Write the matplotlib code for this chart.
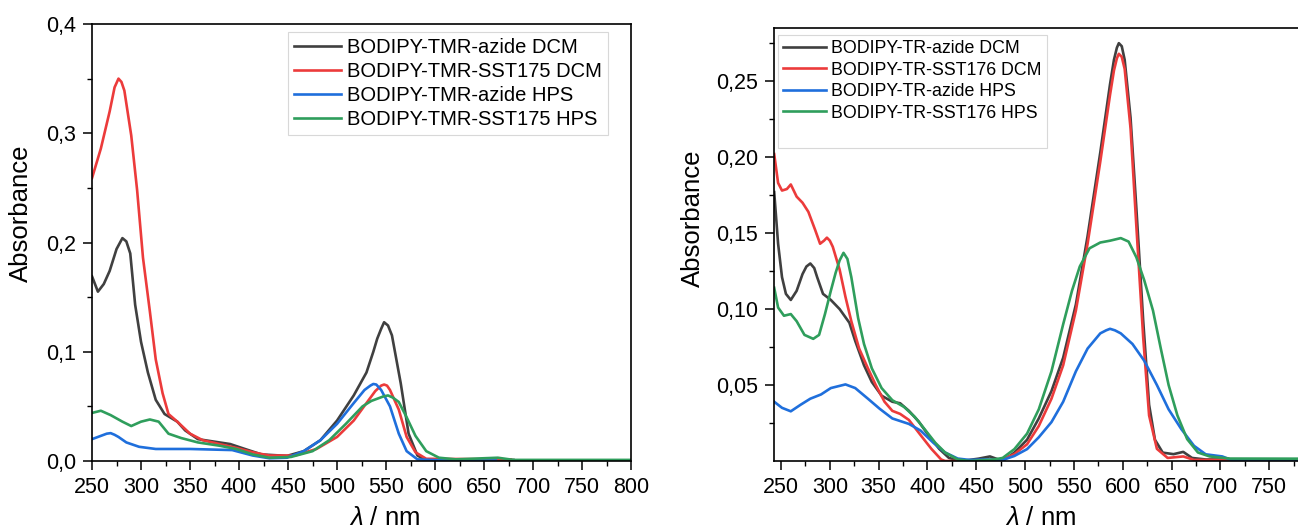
import matplotlib
matplotlib.use("Agg")
import matplotlib.pyplot as plt
from matplotlib.lines import Line2D
from matplotlib.ticker import MultipleLocator, FuncFormatter

plt.rcParams["font.family"] = ["Liberation Sans", "DejaVu Sans"]
plt.rcParams["mathtext.fontset"] = "custom"
plt.rcParams["mathtext.it"] = "Liberation Sans:italic"
plt.rcParams["mathtext.rm"] = "Liberation Sans"

# ---- left panel: BODIPY-TMR ----
tmr_azide_dcm_x = [250, 256, 262, 268, 275, 281, 285, 289, 294, 300, 307, 315, 324, 337, 345, 358, 380,
                   391, 406, 423, 449, 466, 483, 500, 517, 530, 537, 541, 545, 548, 552, 556, 565,
                   573, 582, 590, 600, 680]
tmr_azide_dcm_y = [0.169, 0.155, 0.162, 0.174, 0.194, 0.204, 0.201, 0.190, 0.143, 0.109, 0.081, 0.056,
                   0.043, 0.036, 0.028, 0.020, 0.017, 0.0155, 0.011, 0.006, 0.0047, 0.009, 0.019,
                   0.037, 0.060, 0.081, 0.100, 0.112, 0.121, 0.127, 0.124, 0.115, 0.071, 0.025,
                   0.005, 0.001, 0.001, 0.001]

tmr_sst_dcm_x = [250, 259, 268, 273, 277, 280, 283, 290, 296, 302, 309, 315, 322, 328, 337, 350, 363,
                 380, 397, 414, 431, 457, 479, 500, 517, 530, 539, 545, 548, 551, 554, 563, 571, 580,
                 591, 677]
tmr_sst_dcm_y = [0.259, 0.286, 0.320, 0.342, 0.350, 0.347, 0.339, 0.298, 0.248, 0.186, 0.137, 0.093,
                 0.062, 0.043, 0.036, 0.025, 0.019, 0.0155, 0.012, 0.008, 0.005, 0.005, 0.011, 0.022,
                 0.037, 0.053, 0.064, 0.069, 0.070, 0.069, 0.065, 0.047, 0.022, 0.008, 0.002, 0.0015]

tmr_azide_hps_x = [250, 259, 265, 269, 273, 277, 285, 298, 315, 350, 393, 414, 431, 449, 466, 483,
                   500, 517, 528, 534, 537, 540, 545, 554, 563, 571, 582, 608, 662]
tmr_azide_hps_y = [0.020, 0.023, 0.025, 0.0255, 0.024, 0.022, 0.017, 0.013, 0.011, 0.011, 0.010,
                   0.005, 0.0025, 0.003, 0.009, 0.019, 0.034, 0.053, 0.065, 0.069, 0.0705, 0.070,
                   0.065, 0.050, 0.025, 0.009, 0.0015, 0.0005, 0.0005]

tmr_sst_hps_x = [250, 259, 269, 281, 290, 300, 309, 318, 328, 341, 358, 380, 397, 414, 431, 453, 475,
                 492, 509, 526, 535, 541, 547, 552, 557, 563, 571, 580, 591, 604, 621, 664, 680, 800]
tmr_sst_hps_y = [0.044, 0.046, 0.042, 0.036, 0.032, 0.036, 0.038, 0.036, 0.025, 0.021, 0.017, 0.014,
                 0.011, 0.006, 0.003, 0.0037, 0.009, 0.019, 0.034, 0.050, 0.055, 0.057, 0.059, 0.060,
                 0.058, 0.054, 0.040, 0.023, 0.009, 0.003, 0.0015, 0.003, 0.001, 0.001]

tmr_labels = ["BODIPY-TMR-azide DCM", "BODIPY-TMR-SST175 DCM",
              "BODIPY-TMR-azide HPS", "BODIPY-TMR-SST175 HPS"]

# ---- right panel: BODIPY-TR ----
tr_azide_dcm_x = [243, 247, 251, 255, 260, 266, 272, 276, 280, 284, 287, 293, 301, 310, 320, 326, 335,
                  343, 353, 364, 372, 381, 391, 401, 412, 422, 435, 452, 464, 477, 489, 502, 514, 527,
                  539, 552, 564, 577, 587, 591, 594, 596, 599, 602, 608, 614, 621, 627, 633, 641, 652,
                  662, 671, 685, 800]
tr_azide_dcm_y = [0.177, 0.143, 0.121, 0.110, 0.106, 0.112, 0.123, 0.128, 0.130, 0.127, 0.121, 0.110,
                  0.106, 0.100, 0.091, 0.079, 0.063, 0.052, 0.043, 0.039, 0.038, 0.033, 0.026, 0.017,
                  0.008, 0.002, 0.0, 0.0015, 0.003, 0.0, 0.0055, 0.014, 0.028, 0.046, 0.068, 0.103,
                  0.148, 0.203, 0.248, 0.264, 0.272, 0.275, 0.273, 0.264, 0.226, 0.166, 0.092, 0.037,
                  0.014, 0.0055, 0.0045, 0.006, 0.002, 0.001, 0.001]

tr_sst_dcm_x = [243, 247, 251, 256, 260, 266, 272, 278, 285, 290, 294, 297, 300, 303, 310, 316, 322,
                330, 339, 347, 356, 364, 372, 381, 393, 404, 414, 418, 460, 477, 489, 502, 514, 527,
                539, 552, 564, 577, 587, 591, 594, 596, 599, 602, 608, 614, 621, 627, 635, 646, 662,
                673, 710]
tr_sst_dcm_y = [0.202, 0.183, 0.178, 0.179, 0.182, 0.174, 0.170, 0.164, 0.152, 0.143, 0.145, 0.147,
                0.145, 0.141, 0.126, 0.108, 0.092, 0.074, 0.061, 0.050, 0.039, 0.033, 0.031, 0.027,
                0.017, 0.008, 0.001, 0.0, 0.0, 0.001, 0.0045, 0.011, 0.023, 0.041, 0.063, 0.099,
                0.143, 0.197, 0.241, 0.257, 0.265, 0.268, 0.266, 0.258, 0.219, 0.154, 0.081, 0.030,
                0.008, 0.002, 0.003, 0.0007, 0.0007]

tr_azide_hps_x = [243, 251, 260, 270, 280, 291, 301, 316, 326, 339, 351, 364, 381, 393, 406, 418, 431,
                  443, 460, 477, 489, 502, 514, 527, 539, 552, 564, 577, 583, 587, 592, 598, 610, 622,
                  635, 647, 660, 673, 685, 702, 710, 800]
tr_azide_hps_y = [0.039, 0.035, 0.0327, 0.037, 0.041, 0.0438, 0.048, 0.0504, 0.048, 0.041, 0.0344,
                  0.028, 0.0244, 0.020, 0.012, 0.0056, 0.0016, 0.0007, 0.001, 0.0007, 0.0033, 0.0078,
                  0.0156, 0.0256, 0.039, 0.059, 0.074, 0.084, 0.086, 0.087, 0.086, 0.084, 0.077,
                  0.066, 0.050, 0.034, 0.021, 0.010, 0.0044, 0.003, 0.001, 0.001]

tr_sst_hps_x = [243, 247, 253, 260, 266, 274, 283, 289, 295, 301, 306, 310, 314, 318, 322, 329, 335,
                343, 353, 364, 376, 387, 397, 408, 418, 431, 443, 468, 477, 489, 502, 514, 527, 539,
                548, 556, 566, 577, 587, 598, 606, 614, 622, 631, 639, 647, 656, 666, 677, 689, 710,
                800]
tr_sst_hps_y = [0.114, 0.101, 0.0956, 0.0967, 0.092, 0.083, 0.0804, 0.083, 0.0967, 0.112, 0.124,
                0.132, 0.137, 0.133, 0.121, 0.094, 0.077, 0.061, 0.048, 0.040, 0.0356, 0.029, 0.021,
                0.012, 0.0056, 0.001, 0.0, 0.001, 0.002, 0.0078, 0.018, 0.034, 0.059, 0.090, 0.112,
                0.128, 0.140, 0.1438, 0.145, 0.1467, 0.1444, 0.134, 0.119, 0.099, 0.074, 0.050,
                0.030, 0.0144, 0.0056, 0.003, 0.0016, 0.0015]

tr_labels = ["BODIPY-TR-azide DCM", "BODIPY-TR-SST176 DCM",
             "BODIPY-TR-azide HPS", "BODIPY-TR-SST176 HPS"]

colors = ["#404040", "#ec3b3b", "#1f6fdc", "#2f9e5c"]

comma = lambda fmt: FuncFormatter(lambda v, p: (fmt % v).replace(".", ","))

fig = plt.figure(figsize=(12.98, 5.30), dpi=100)
ax1 = fig.add_axes([0.0709, 0.1302, 0.4153, 0.8245])
# right panel runs past the figure edge (cropped like the original)
ax2 = fig.add_axes([0.5963, 0.1302, 0.4191, 0.817])

left_series = [(tmr_azide_dcm_x, tmr_azide_dcm_y), (tmr_sst_dcm_x, tmr_sst_dcm_y),
               (tmr_azide_hps_x, tmr_azide_hps_y), (tmr_sst_hps_x, tmr_sst_hps_y)]
right_series = [(tr_azide_dcm_x, tr_azide_dcm_y), (tr_sst_dcm_x, tr_sst_dcm_y),
                (tr_azide_hps_x, tr_azide_hps_y), (tr_sst_hps_x, tr_sst_hps_y)]

for (x, y), c, lab in zip(left_series, colors, tmr_labels):
    ax1.plot(x, y, color=c, lw=1.9, label=lab, solid_joinstyle="round")
for (x, y), c, lab in zip(right_series, colors, tr_labels):
    ax2.plot(x, y, color=c, lw=1.9, label=lab, solid_joinstyle="round")

ax1.set_xlim(250, 800)
ax1.set_ylim(0, 0.4)
ax1.xaxis.set_major_locator(MultipleLocator(50))
ax1.xaxis.set_minor_locator(MultipleLocator(25))
ax1.yaxis.set_major_locator(MultipleLocator(0.1))
ax1.yaxis.set_minor_locator(MultipleLocator(0.05))
ax1.yaxis.set_major_formatter(comma("%.1f"))

ax2.set_xlim(242.8, 800)
ax2.set_ylim(0, 0.285)
ax2.set_xticks(list(range(250, 751, 50)))
ax2.set_xticks(list(range(275, 776, 50)), minor=True)
ax2.set_yticks([0.05, 0.10, 0.15, 0.20, 0.25])
ax2.set_yticks([0.025, 0.075, 0.125, 0.175, 0.225, 0.275], minor=True)
ax2.yaxis.set_major_formatter(comma("%.2f"))

for ax in (ax1, ax2):
    for s in ax.spines.values():
        s.set_linewidth(1.2)
    ax.tick_params(which="major", direction="out", length=6.5, width=1.1, labelsize=15.5, pad=5)
    ax.tick_params(which="minor", direction="out", length=3.5, width=1.0)
    ax.set_ylabel("Absorbance", fontsize=18.5)
    ax.set_xlabel(r"$\lambda$ / nm", fontsize=18.5)

ax1.yaxis.set_label_coords(-0.11, 0.567)
ax1.xaxis.set_label_coords(0.542, -0.103)
ax2.yaxis.set_label_coords(-0.127, 0.561)
ax2.xaxis.set_label_coords(0.49, -0.103)

leg1 = ax1.legend(loc="upper right", bbox_to_anchor=(0.957, 0.982), fontsize=14.5,
                  frameon=True, fancybox=False, edgecolor="#d8d8d8", framealpha=1,
                  handlelength=2.35, handletextpad=0.3, labelspacing=0.25, borderpad=0.3,
                  borderaxespad=0)
leg1.get_frame().set_linewidth(0.8)

h, l = ax2.get_legend_handles_labels()
h.append(Line2D([], [], color="none"))
l.append(" ")
leg2 = ax2.legend(h, l, loc="upper left", bbox_to_anchor=(0.0074, 0.984), fontsize=12.8,
                  frameon=True, fancybox=False, edgecolor="#d8d8d8", framealpha=1,
                  handlelength=2.4, handletextpad=0.3, labelspacing=0.25, borderpad=0.3,
                  borderaxespad=0)
leg2.get_frame().set_linewidth(0.8)

fig.savefig("out.png", dpi=100)
